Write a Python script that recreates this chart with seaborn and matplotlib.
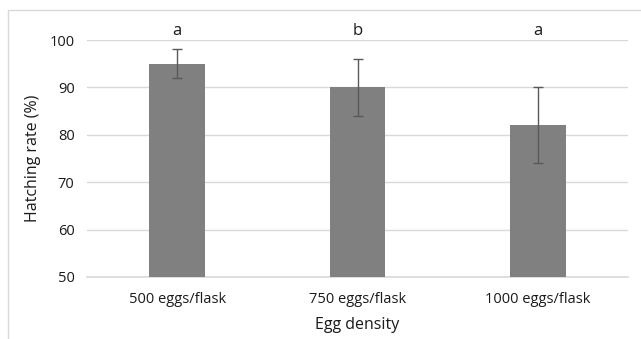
import matplotlib
matplotlib.use("Agg")
import matplotlib.pyplot as plt
import seaborn as sns
import pandas as pd
from matplotlib.patches import Rectangle

categories = ["500 eggs/flask", "750 eggs/flask", "1000 eggs/flask"]
hatching = [95, 90, 82]
errors = [3, 6, 8]
letters = ["a", "b", "a"]

df = pd.DataFrame({"density": categories, "rate": hatching})

sns.set_theme(style="white")
plt.rcParams["font.family"] = ["Open Sans", "DejaVu Sans"]

fig = plt.figure(figsize=(6.41, 3.39), dpi=100)
ax = fig.add_axes([87/641, 1 - 277/339, (628-87)/641, (277-40)/339])

sns.barplot(data=df, x="density", y="rate", color="#808080", saturation=1,
            width=0.31, ax=ax, errorbar=None, zorder=3)
for p in ax.patches:
    p.set_edgecolor("none")
ax.errorbar(range(len(categories)), hatching, yerr=errors, fmt="none",
            ecolor="#595959", elinewidth=1.0, capsize=3.5, capthick=1.0, zorder=4)

for i, l in enumerate(letters):
    ax.text(i, 102.0, l, ha="center", va="center", fontsize=12, color="#1a1a1a", clip_on=False)

ax.set_ylim(50, 100)
ax.set_xlim(-0.5, 2.5)
ax.set_yticks([50, 60, 70, 80, 90, 100])
ax.yaxis.grid(True, color="#d9d9d9", linewidth=1.0, zorder=0)
ax.set_axisbelow(True)
for s in ["top", "right", "left"]:
    ax.spines[s].set_visible(False)
ax.spines["bottom"].set_color("#d9d9d9")
ax.spines["bottom"].set_linewidth(1.2)
ax.tick_params(axis="both", length=0, labelsize=10.5, colors="#1a1a1a", pad=9)
ax.tick_params(axis="x", pad=11)
ax.set_xlabel("Egg density", fontsize=11.5, color="#1a1a1a", labelpad=7)
ax.set_ylabel("Hatching rate (%)", fontsize=11.5, color="#1a1a1a", labelpad=6)

fig.patches.append(Rectangle((8/641, -0.1), 1.2, 1 - 10/339 + 0.1, transform=fig.transFigure,
                             fill=False, edgecolor="#d9d9d9", linewidth=1.0))

fig.savefig("out.png", dpi=100)
